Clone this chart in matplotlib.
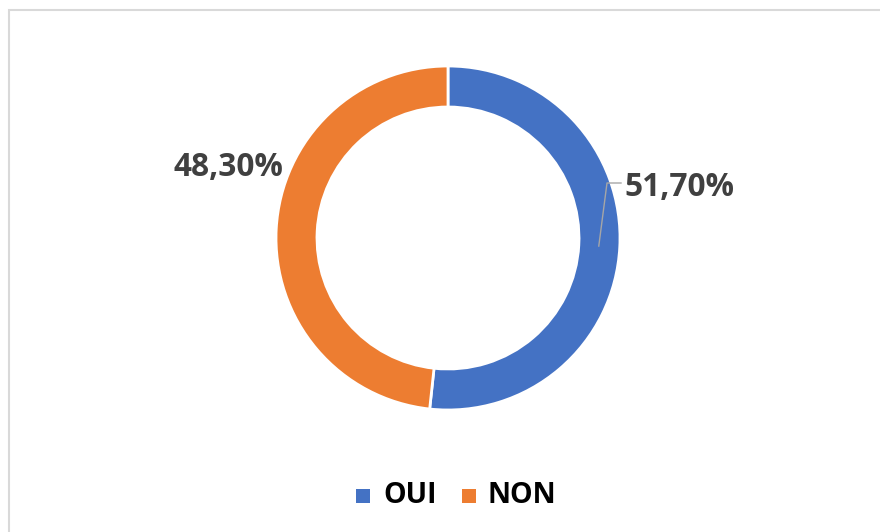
import matplotlib
matplotlib.use("Agg")
import matplotlib.pyplot as plt
from matplotlib.patches import Rectangle
import numpy as np

categories = ["OUI", "NON"]
values = [51.7, 48.3]
labels = ["51,70%", "48,30%"]
colors = ["#4472C4", "#ED7D31"]

W, H = 880, 532
fig = plt.figure(figsize=(W / 100, H / 100), dpi=100)
ax = fig.add_axes([0, 0, 1, 1])
ax.set_xlim(0, W)
ax.set_ylim(0, H)
ax.set_aspect("equal")
ax.axis("off")

# chart frame
ax.add_patch(Rectangle((9, -20), W + 40, H - 10 + 20, fill=False,
                       edgecolor="#D9D9D9", linewidth=1.5))

cx, cy = 448, H - 238
R = 172
wedges, _ = ax.pie(values, colors=colors, startangle=90, counterclock=False,
                   center=(cx, cy), radius=R, frame=True,
                   wedgeprops=dict(width=41, edgecolor="white", linewidth=2))
ax.set_xlim(0, W)
ax.set_ylim(0, H)
ax.axis("off")

fp = dict(family=["Open Sans", "DejaVu Sans"], weight="bold", size=22.8)

# OUI label with leader line
w = wedges[0]
ang = np.deg2rad((w.theta1 + w.theta2) / 2)
rm = R - 21
p0 = (cx + rm * np.cos(ang), cy + rm * np.sin(ang))
p1 = (cx + 159, cy + 55)
p2 = (cx + 173, cy + 55)
ax.plot([p0[0], p1[0], p2[0]], [p0[1], p1[1], p2[1]], color="#A6A6A6", lw=1)
ax.text(cx + 176, cy + 51, labels[0], color="#404040", ha="left", va="center", **fp)

# NON label
ax.text(cx - 219.5, cy + 70, labels[1], color="#404040", ha="center", va="center", **fp)

# legend
leg_y = H - 496
items = [(356, 383), (462, 488)]
for (sx, tx), c, name in zip(items, colors, categories):
    ax.add_patch(Rectangle((sx, leg_y - 7), 14, 14, facecolor=c, edgecolor="none"))
    ax.text(tx, leg_y + 0.5, name, color="black", ha="left", va="center",
            family=["Open Sans", "DejaVu Sans"], weight="bold", size=20.5)

fig.savefig("out.png", dpi=100, facecolor="white")
